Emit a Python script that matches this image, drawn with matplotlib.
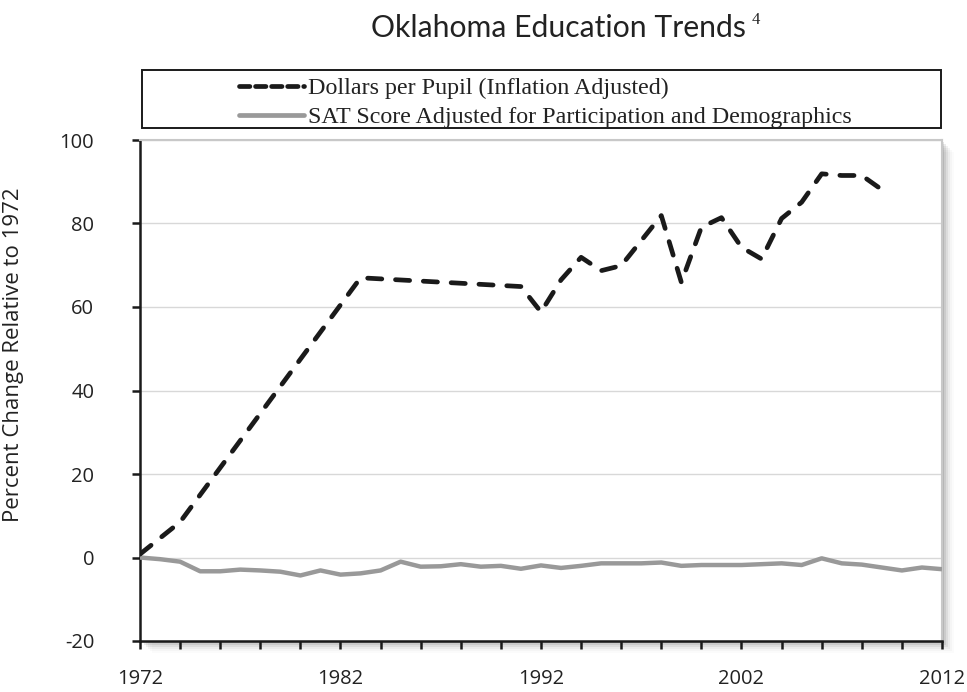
import matplotlib
matplotlib.use("Agg")
import matplotlib.pyplot as plt
from matplotlib.patches import Rectangle
from matplotlib.lines import Line2D
import numpy as np

# ---- data ----
dollar_years = [1972, 1974, 1983, 1991, 1992, 1993, 1994, 1995, 1996, 1997, 1998,
                1999, 2000, 2001, 2002, 2003, 2004, 2005, 2006, 2007, 2008, 2009]
dollar_values = [0.8, 8.5, 67.0, 64.9, 58.8, 66.5, 71.9, 68.7, 69.9, 75.9, 81.9,
                 65.9, 79.1, 81.4, 74.3, 71.5, 81.2, 85.1, 91.9, 91.5, 91.5, 88.1]

sat_years = list(range(1972, 2013))
sat_values = [0.0, -0.4, -1.0, -3.3, -3.3, -2.9, -3.1, -3.4, -4.3, -3.1, -4.1,
              -3.8, -3.1, -1.0, -2.2, -2.1, -1.6, -2.2, -2.0, -2.7, -1.9,
              -2.5, -2.0, -1.4, -1.4, -1.4, -1.2, -2.0, -1.8, -1.8, -1.8,
              -1.6, -1.4, -1.8, -0.2, -1.4, -1.7, -2.4, -3.1, -2.4, -2.8]

series_labels = ["Dollars per Pupil (Inflation Adjusted)",
                 "SAT Score Adjusted for Participation and Demographics"]
title_text = "Oklahoma Education Trends"
title_note = "4"
ylabel_text = "Percent Change Relative to 1972"
xtick_labels = [1972, 1982, 1992, 2002, 2012]
yticks = [-20, 0, 20, 40, 60, 80, 100]

W, H = 967, 692
fig = plt.figure(figsize=(W / 100, H / 100), dpi=100)
fig.patch.set_facecolor("white")

L, R, T, B = 140, 942, 140, 641
ax = fig.add_axes([L / W, 1 - B / H, (R - L) / W, (B - T) / H])

# drop shadow behind axes
for i, a in enumerate([0.10, 0.08, 0.06, 0.04, 0.025, 0.015]):
    off = (i + 1) * 2
    fig.patches.append(Rectangle(((L + off) / W, 1 - (B + off) / H), (R - L) / W, (B - T) / H,
                                 transform=fig.transFigure, facecolor="black",
                                 alpha=a, edgecolor="none", zorder=-5))

ax.set_facecolor("white")
ax.set_xlim(1972, 2012)
ax.set_ylim(-20, 100)

ax.grid(axis="y", color="#d8d8d8", lw=1.0)
ax.set_axisbelow(True)

sat_color = "#999999"
ax.plot(sat_years, sat_values, color=sat_color, lw=3.2, solid_capstyle="butt",
        solid_joinstyle="round", zorder=3)
ax.plot(dollar_years, dollar_values, color="#1a1a1a", lw=3.4, linestyle=(0, (3.0, 2.9)),
        dash_capstyle="round", dash_joinstyle="round", zorder=4)

for s in ["left", "bottom"]:
    ax.spines[s].set_color("#1a1a1a")
    ax.spines[s].set_linewidth(1.8)
for s in ["top", "right"]:
    ax.spines[s].set_color("#c8c8c8")
    ax.spines[s].set_linewidth(1.5)

tick_font = ["Open Sans", "DejaVu Sans"]
ax.set_xticks(np.arange(1972, 2013, 2))
ax.set_xticklabels([str(y) if y in xtick_labels else "" for y in range(1972, 2013, 2)])
ax.set_yticks(yticks)
ax.set_yticklabels([str(v) for v in yticks])
ax.tick_params(axis="x", direction="out", length=6, width=1.8, color="#1a1a1a",
               pad=14, labelsize=14.5, labelcolor="#222222")
ax.tick_params(axis="y", direction="out", length=6, width=1.8, color="#1a1a1a",
               pad=27, labelsize=14.5, labelcolor="#222222")
for lab in ax.get_xticklabels() + ax.get_yticklabels():
    lab.set_family(tick_font)

ax.set_ylabel(ylabel_text, family=tick_font, fontsize=16, color="#222222")
ax.yaxis.set_label_coords(-0.145, 0.571)

fig.text(746 / W, 1 - 28 / H, title_text, ha="right", va="center",
         family="Lato", fontsize=21.7, color="#222222")
fig.text(752 / W, 1 - 20 / H, title_note, ha="left", va="center",
         family="Liberation Serif", fontsize=12, color="#222222")

# legend box
fig.patches.append(Rectangle((142 / W, 1 - 128 / H), (941 - 142) / W, (128 - 70) / H,
                             transform=fig.transFigure, facecolor="white",
                             edgecolor="#1a1a1a", lw=1.4, zorder=5))
handles = [Line2D([], [], color="#1a1a1a", lw=3.4, linestyle=(0, (2.2, 1.2)),
                  dash_capstyle="round"),
           Line2D([], [], color=sat_color, lw=3.4, solid_capstyle="round")]
fig.legend(handles, series_labels, loc="upper left",
           bbox_to_anchor=(220 / W, 1 - 58 / H), frameon=False,
           prop={"family": "Liberation Serif", "size": 17.3},
           handlelength=2.7, handletextpad=0.15, labelspacing=0.3,
           borderpad=0.3, labelcolor="#222222")

fig.savefig("out.png", dpi=100, facecolor="white")
